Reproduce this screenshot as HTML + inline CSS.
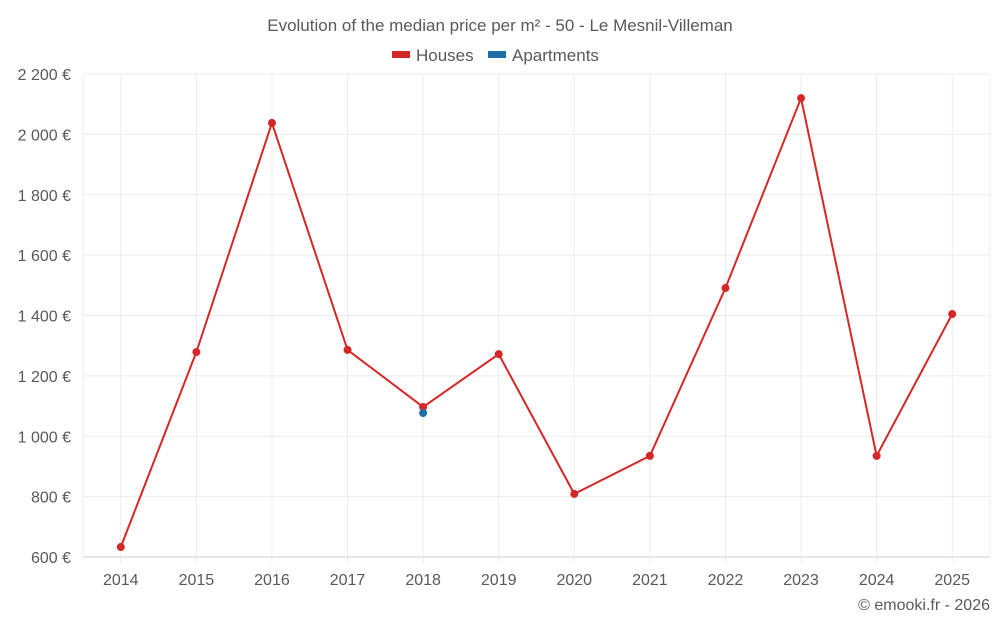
<!DOCTYPE html>
<html><head><meta charset="utf-8"><style>
html,body{margin:0;padding:0;background:#fff;}
svg{display:block;font-family:"Liberation Sans",sans-serif;}
</style></head><body>
<svg id="chart" width="1000" height="625">
<text x="500" y="31" text-anchor="middle" font-size="17" fill="#595959">Evolution of the median price per m² - 50 - Le Mesnil-Villeman</text>
<g>
<g><rect x="392" y="51" width="18" height="7" fill="#d62728"/><text x="416" y="61" font-size="17" fill="#595959">Houses</text></g>
<g><rect x="488" y="51" width="18" height="7" fill="#1f6fa8"/><text x="512" y="61" font-size="17" fill="#595959">Apartments</text></g>
</g>
<g id="grid"></g><g id="axes"></g><g id="series"></g>
<text x="990" y="610" text-anchor="end" font-size="16" fill="#595959">© emooki.fr - 2026</text>
</svg>
<script>
const years = [2014,2015,2016,2017,2018,2019,2020,2021,2022,2023,2024,2025];
const houses = [633,1279,2038,1286,1097,1272,809,935,1491,2120,935,1405];
const apartments = [null,null,null,null,1077,null,null,null,null,null,null,null];
const yTicks = [600,800,1000,1200,1400,1600,1800,2000,2200];
const yTickLabels = ["600 €","800 €","1 000 €","1 200 €","1 400 €","1 600 €","1 800 €","2 000 €","2 200 €"];

const L=83,R=990,T=74,B=557,ymin=600,ymax=2200;
const bw=(R-L)/years.length;
const xs=i=>L+bw*(i+0.5);
const ys=v=>B-(v-ymin)/(ymax-ymin)*(B-T);
const NS="http://www.w3.org/2000/svg";
function mk(tag,attrs,parent){const e=document.createElementNS(NS,tag);for(const k in attrs)e.setAttribute(k,attrs[k]);parent.appendChild(e);return e;}
const grid=document.getElementById('grid'),axes=document.getElementById('axes'),ser=document.getElementById('series');
yTicks.forEach((t,i)=>{
  const l=mk('line',{x1:L,x2:R,y1:ys(t),y2:ys(t),stroke:i===0?'#ccc':'#ececec','stroke-width':1},grid);
  
  
  const tx=mk('text',{x:L-12,y:ys(t)+6,'text-anchor':'end','font-size':16,fill:'#595959'},axes);
  tx.textContent=yTickLabels[i];
  
  
});
[L,R].forEach(x=>{const l=mk('line',{x1:x,x2:x,y1:T,y2:B,stroke:'#ececec'},grid);
  
  });
years.forEach((y,i)=>{
  const l=mk('line',{x1:xs(i),x2:xs(i),y1:T,y2:B+6,stroke:'#ececec'},grid);
  
  
  const tx=mk('text',{x:xs(i),y:B+28,'text-anchor':'middle','font-size':16,fill:'#595959'},axes);
  tx.textContent=y;
  
  
});
const pts=houses.map((v,i)=>xs(i)+','+ys(v)).join(' ');
const pl=mk('polyline',{points:pts,fill:'none',stroke:'#d62728','stroke-width':2},ser);


houses.forEach((v,i)=>{const c=mk('circle',{cx:xs(i),cy:ys(v),r:4,fill:'#d62728'},ser);
  
  });
apartments.forEach((v,i)=>{if(v==null)return;const c=mk('circle',{cx:xs(i),cy:ys(v),r:4,fill:'#1f6fa8'},ser);
  
  });
</script>
</body></html>
